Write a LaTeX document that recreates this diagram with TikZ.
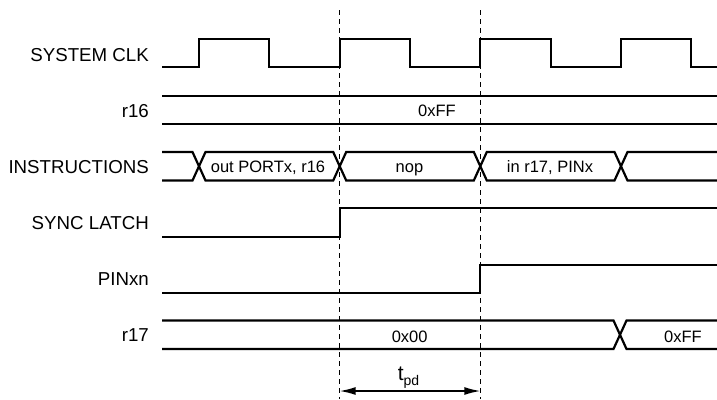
\documentclass[tikz,border=0pt]{standalone}
\usepackage{fontspec}
\setmainfont{Liberation Sans}
\usetikzlibrary{arrows.meta}
\begin{document}
\begin{tikzpicture}[x=1pt,y=-1pt,
  sig/.style={line width=2.2pt, line join=miter, line cap=butt},
  lab/.style={anchor=base east, inner sep=0pt, font=\fontsize{18.7}{20}\selectfont},
  val/.style={anchor=base, inner sep=0pt, font=\fontsize{16.5}{18}\selectfont},
  guide/.style={line width=1.2pt, dash pattern=on 5pt off 4pt},
  dim/.style={line width=1.5pt, {Latex[length=16pt,width=8pt]}-{Latex[length=16pt,width=8pt]}}]
\useasboundingbox (0,0) rectangle (717,399);
% labels
\node[lab] (lclk) at (149,61.7) {SYSTEM CLK};
\node[lab] (lr16) at (149,117.4) {r16};
\node[lab] (lins) at (149,173.4) {INSTRUCTIONS};
\node[lab] (lsync) at (149,229.4) {SYNC LATCH};
\node[lab] (lpin) at (149,285.4) {PINxn};
\node[lab] (lr17) at (149,341.4) {r17};
% guides
\coordinate (g1t) at (339.7,10); \coordinate (g1b) at (339.7,399);
\coordinate (g2t) at (480.3,10); \coordinate (g2b) at (480.3,399);
\draw[guide] (g1t) -- (g1b);
\draw[guide] (g2t) -- (g2b);
% clock
\draw[sig] (162,67.3) -- (199,67.3) -- (199,39.3) -- (269.3,39.3) -- (269.3,67.3)
  -- (339.7,67.3) -- (339.7,39.3) -- (410,39.3) -- (410,67.3) -- (480.3,67.3)
  -- (480.3,39.3) -- (550.7,39.3) -- (550.7,67.3) -- (621,67.3) -- (621,39.3)
  -- (691.3,39.3) -- (691.3,67.3) -- (717,67.3);
% r16
\draw[sig] (162,95.7) -- (717,95.7);
\draw[sig] (162,124) -- (717,124);
\node[val] (v16) at (437,116.5) {0xFF};
% instructions
\def\hT{152}\def\hB{180.5}\def\hh{6.5}
\draw[sig] (162,\hT) -- (199-\hh,\hT) -- (199+\hh,\hB) -- (339.7-\hh,\hB) -- (339.7+\hh,\hT)
  -- (480.3-\hh,\hT) -- (480.3+\hh,\hB) -- (621-\hh,\hB) -- (621+\hh,\hT) -- (717,\hT);
\draw[sig] (162,\hB) -- (199-\hh,\hB) -- (199+\hh,\hT) -- (339.7-\hh,\hT) -- (339.7+\hh,\hB)
  -- (480.3-\hh,\hB) -- (480.3+\hh,\hT) -- (621-\hh,\hT) -- (621+\hh,\hB) -- (717,\hB);
\node[val] (i1) at (268,172.3) {out PORTx, r16};
\node[val] (i2) at (409.5,172.3) {nop};
\node[val] (i3) at (550,172.3) {in r17, PINx};
% sync latch
\draw[sig] (162,236.7) -- (339.7,236.7) -- (339.7,208.3) -- (717,208.3);
% PINxn
\draw[sig] (162,292.7) -- (480.3,292.7) -- (480.3,264.7) -- (717,264.7);
% r17
\def\rT{320.5}\def\rB{349}
\draw[sig] (162,\rT) -- (620-\hh,\rT) -- (620+\hh,\rB) -- (717,\rB);
\draw[sig] (162,\rB) -- (620-\hh,\rB) -- (620+\hh,\rT) -- (717,\rT);
\node[val] (r1) at (409.7,342.2) {0x00};
\node[val] (r2) at (683,342.2) {0xFF};
% t_pd
\coordinate (a1) at (339.7,391);
\coordinate (a2) at (480.3,391);
\draw[dim] (a1) -- (a2);
\node[anchor=base, inner sep=0pt, font=\fontsize{21}{22}\selectfont] (tpd) at (408.5,380)
  {t\raisebox{-5pt}{\fontsize{14}{15}\selectfont pd}};
\end{tikzpicture}
\end{document}
